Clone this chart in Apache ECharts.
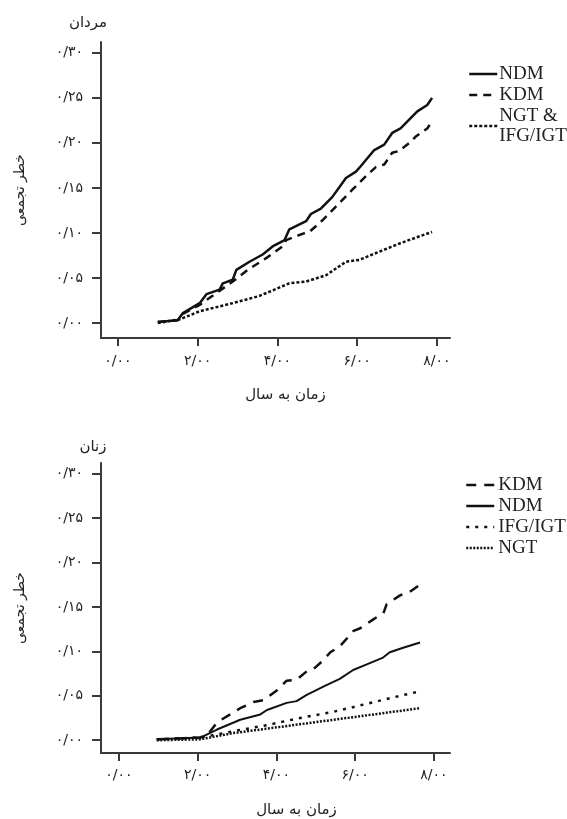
<!DOCTYPE html>
<html>
<head>
<meta charset="utf-8">
<script src="https://cdn.jsdelivr.net/npm/echarts@6/dist/echarts.min.js"></script>
<style>
  html, body { margin: 0; padding: 0; background: #fff; }
  #chart { width: 567px; height: 819px; }
</style>
</head>
<body>
<div id="chart"></div>
<script>
// tick values and their Persian labels
var yTicks = [0, 0.05, 0.10, 0.15, 0.20, 0.25, 0.30];
var yTickLabels = ['۰/۰۰', '۰/۰۵', '۰/۱۰', '۰/۱۵', '۰/۲۰', '۰/۲۵', '۰/۳۰'];
var xTicks = [0, 2, 4, 6, 8];
var xTickLabels = ['۰/۰۰', '۲/۰۰', '۴/۰۰', '۶/۰۰', '۸/۰۰'];

// men (top panel): [year, cumulative risk]
var menNDM = [[1.0,0.001],[1.5,0.003],[1.63,0.011],[2.05,0.022],[2.22,0.032],[2.55,0.037],[2.63,0.044],[2.88,0.048],[2.97,0.059],[3.3,0.068],[3.63,0.076],[3.88,0.085],[4.18,0.092],[4.3,0.104],[4.72,0.113],[4.84,0.121],[5.09,0.127],[5.38,0.140],[5.72,0.161],[5.97,0.168],[6.09,0.174],[6.43,0.192],[6.68,0.198],[6.88,0.211],[7.09,0.216],[7.51,0.235],[7.76,0.242],[7.88,0.250]];
var menKDM = [[1.0,0.001],[1.5,0.003],[1.63,0.010],[2.05,0.020],[2.43,0.032],[2.88,0.046],[3.26,0.059],[3.72,0.072],[4.13,0.085],[4.22,0.092],[4.63,0.099],[4.8,0.101],[5.13,0.114],[5.55,0.133],[5.88,0.148],[6.22,0.163],[6.47,0.173],[6.68,0.176],[6.88,0.189],[7.05,0.191],[7.34,0.201],[7.47,0.207],[7.76,0.216],[7.88,0.224]];
var menNGT = [[1.0,0.0],[1.55,0.004],[2.05,0.013],[2.88,0.022],[3.55,0.030],[4.3,0.044],[4.72,0.046],[5.22,0.053],[5.72,0.068],[6.05,0.070],[6.55,0.079],[7.05,0.088],[7.55,0.096],[7.88,0.101]];

// women (bottom panel)
var womenKDM = [[0.96,0.001],[2.07,0.003],[2.32,0.010],[2.49,0.020],[3.08,0.036],[3.42,0.043],[3.67,0.045],[4.01,0.056],[4.26,0.067],[4.51,0.068],[4.81,0.079],[4.94,0.080],[5.19,0.090],[5.37,0.099],[5.62,0.106],[5.96,0.123],[6.13,0.126],[6.46,0.136],[6.72,0.143],[6.8,0.153],[7.14,0.163],[7.39,0.167],[7.65,0.175]];
var womenNDM = [[0.96,0.001],[2.07,0.003],[2.49,0.012],[3.08,0.023],[3.59,0.029],[3.76,0.034],[4.26,0.042],[4.51,0.044],[4.77,0.051],[5.27,0.062],[5.61,0.069],[5.95,0.079],[6.28,0.085],[6.71,0.093],[6.88,0.099],[7.22,0.104],[7.65,0.110]];
var womenIFG = [[0.96,0.001],[2.07,0.003],[2.9,0.010],[3.76,0.017],[4.6,0.025],[5.45,0.032],[6.3,0.041],[7.14,0.050],[7.65,0.055]];
var womenNGT = [[0.96,0.0],[2.07,0.001],[2.9,0.008],[3.76,0.013],[4.6,0.018],[5.45,0.023],[6.3,0.028],[7.14,0.033],[7.65,0.036]];

var axisColor = '#3a3a3a';
var persianFont = 'DejaVu Sans';
var latinFont = 'Liberation Serif';

function yLabel(v) {
    var i = yTicks.indexOf(Math.round(v * 100) / 100);
    return i < 0 ? '' : yTickLabels[i];
}
function xLabel(v) {
    var i = xTicks.indexOf(Math.round(v));
    return i < 0 ? '' : xTickLabels[i];
}

function makeX(idx, min, max, namePad, labelMargin) {
    return {
        type: 'value', gridIndex: idx, min: min, max: max,
        name: 'زمان به سال', nameLocation: 'middle', nameGap: 50,
        nameTextStyle: { fontFamily: persianFont, fontSize: 15, color: '#222', padding: [0, 0, 0, namePad] },
        axisLine: { onZero: false, lineStyle: { color: axisColor, width: 2 } },
        axisTick: { customValues: xTicks, length: 8, lineStyle: { color: axisColor, width: 2 } },
        axisLabel: { customValues: xTicks, formatter: xLabel, margin: labelMargin, fontFamily: persianFont, fontSize: 14, color: '#222' },
        splitLine: { show: false }
    };
}
function makeY(idx, min, max) {
    return {
        type: 'value', gridIndex: idx, min: min, max: max,
        name: 'خطر تجمعی', nameLocation: 'middle', nameGap: 74, nameRotate: 90,
        nameTextStyle: { fontFamily: persianFont, fontSize: 14, color: '#222' },
        axisLine: { onZero: false, lineStyle: { color: axisColor, width: 2 } },
        axisTick: { customValues: yTicks, length: 9, lineStyle: { color: axisColor, width: 2 } },
        axisLabel: { customValues: yTicks, formatter: yLabel, margin: 18, fontFamily: persianFont, fontSize: 14, color: '#222' },
        splitLine: { show: false }
    };
}
function line(name, idx, data, width, dash) {
    return {
        name: name, type: 'line', xAxisIndex: idx, yAxisIndex: idx,
        data: data, symbol: 'none', smooth: false, animation: false,
        itemStyle: { color: '#111' },
        lineStyle: { color: '#111', width: width, type: dash }
    };
}

var chart = echarts.init(document.getElementById('chart'), null, { renderer: 'canvas' });
chart.setOption({
    backgroundColor: '#fff',
    animation: false,
    grid: [
        { left: 101, top: 42, width: 349, height: 296 },
        { left: 101, top: 463, width: 349, height: 294 }
    ],
    xAxis: [makeX(0, -0.425, 8.33, 20, 16), makeX(1, -0.457, 8.41, 42, 15)],
    yAxis: [makeY(0, -0.0167, 0.312), makeY(1, -0.0144, 0.312)],
    legend: [
        {
            left: 463, top: 59, orient: 'vertical', itemWidth: 28, itemHeight: 12, itemGap: 1,
            itemStyle: { opacity: 0 }, lineStyle: { width: 2.5 },
            textStyle: { fontFamily: latinFont, fontSize: 19, color: '#222', padding: [0, 0, 0, -3], lineHeight: 20 },
            data: ['NDM', 'KDM', 'NGT &\nIFG/IGT']
        },
        {
            left: 460, top: 470, orient: 'vertical', itemWidth: 28, itemHeight: 12, itemGap: 1,
            itemStyle: { opacity: 0 }, lineStyle: { width: 2.5 },
            textStyle: { fontFamily: latinFont, fontSize: 19, color: '#222', padding: [0, 0, 0, -1], lineHeight: 20 },
            data: ['KDM ', 'NDM ', 'IFG/IGT', 'NGT']
        }
    ],
    graphic: [
        { type: 'text', x: 88, y: 23, style: { text: 'مردان', font: '15px "DejaVu Sans"', fill: '#222', align: 'center', verticalAlign: 'middle' } },
        { type: 'text', x: 93, y: 447, style: { text: 'زنان', font: '15px "DejaVu Sans"', fill: '#222', align: 'center', verticalAlign: 'middle' } }
    ],
    series: [
        line('NDM', 0, menNDM, 2.5, 'solid'),
        line('KDM', 0, menKDM, 2.5, [8, 6]),
        line('NGT &\nIFG/IGT', 0, menNGT, 2.5, [3, 2]),
        line('KDM ', 1, womenKDM, 2.5, [10, 8]),
        line('NDM ', 1, womenNDM, 2, 'solid'),
        line('IFG/IGT', 1, womenIFG, 2.5, [3, 6]),
        line('NGT', 1, womenNGT, 2.5, [2, 1.5])
    ]
});
</script>
</body>
</html>
